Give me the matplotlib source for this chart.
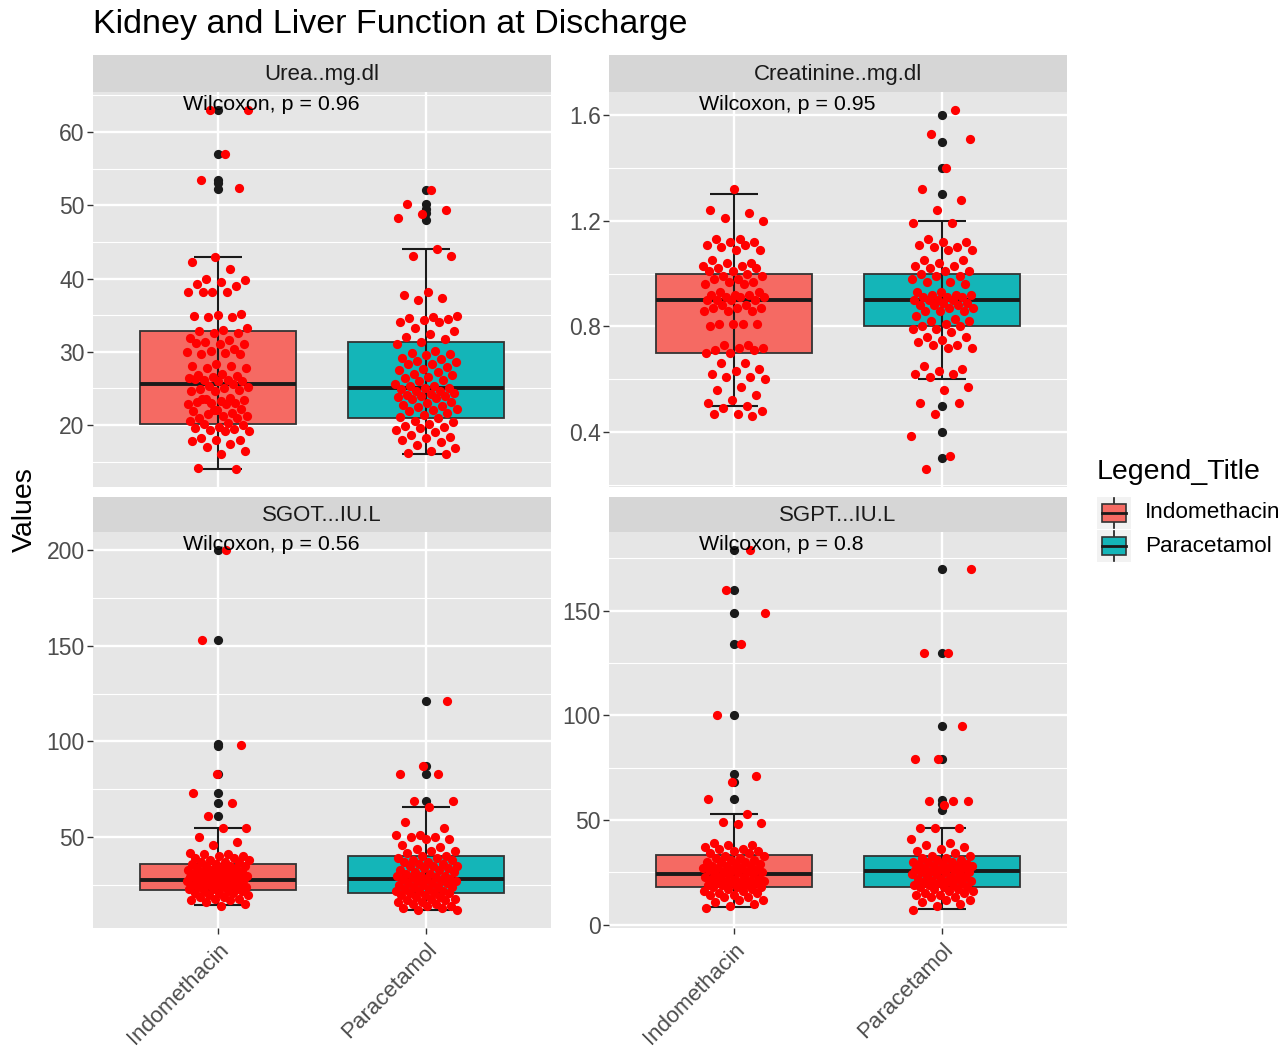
import numpy as np
import matplotlib
matplotlib.use('Agg')
import matplotlib.pyplot as plt
from matplotlib.patches import Rectangle
from matplotlib.ticker import MultipleLocator, FormatStrFormatter

plt.rcParams['font.family'] = ['Liberation Sans', 'DejaVu Sans']

# groups and facet labels
groups = ['Indomethacin', 'Paracetamol']
panel_titles = ['Urea..mg.dl', 'Creatinine..mg.dl', 'SGOT...IU.L', 'SGPT...IU.L']
p_values = ['0.96', '0.95', '0.56', '0.8']
fill_colors = ['#F56A63', '#14B5B8']

urea_indo = [63, 63, 57, 53.5, 52.3, 43, 42.2, 41.3, 40.0, 39.8, 39.5, 39.2, 39.0, 38.1, 38.1, 38.1, 38.1,
             35.2, 35.0, 34.9, 34.7, 34.7, 33.3, 33.0, 32.8, 32.6, 32.6, 31.9, 31.6, 31.3, 31.0, 31.0, 31.2,
             30.4, 30.1, 30.0, 29.8, 29.7, 29.7, 28.3, 28.1, 28.0, 27.8, 27.8, 27.0, 26.9, 26.7, 26.5, 26.4,
             26.2, 26.1, 26.0, 26.0, 26.3, 25.6, 25.4, 25.2, 25.0, 24.9, 24.8, 24.7, 24.7, 23.7, 23.6, 23.4,
             23.3, 23.2, 23.0, 23.0, 22.9, 22.9, 23.5, 22.2, 22.0, 21.9, 21.7, 21.5, 21.3, 21.2, 21.0, 21.0,
             22.1, 20.5, 20.3, 20.1, 20.0, 19.8, 19.6, 19.5, 19.3, 19.2, 19.2, 18.2, 18.0, 17.9, 17.8, 17.4,
             17.0, 16.5, 16.0, 14.1, 14.0]
urea_para = [52.1, 50.1, 49.3, 48.8, 48.2, 44, 43.1, 43.1, 38.1, 37.8, 37.3, 37.0, 34.9, 34.8, 34.6, 34.5,
             34.3, 34.1, 34.0, 33.3, 32.9, 32.4, 32.0, 31.7, 31.3, 31.0, 30.1, 29.9, 29.7, 29.5, 29.2, 29.0,
             28.8, 28.6, 28.4, 28.3, 27.9, 27.7, 27.5, 27.2, 27.0, 26.8, 26.6, 26.4, 26.2, 26.0, 25.6, 25.4,
             25.3, 25.1, 25.0, 24.9, 24.7, 24.6, 24.4, 24.3, 24.1, 24.0, 23.9, 23.8, 23.7, 23.5, 23.2, 23.0,
             22.8, 22.6, 22.4, 22.2, 22.0, 21.9, 21.7, 21.4, 21.1, 20.9, 20.6, 20.4, 20.1, 19.9, 19.7, 19.6,
             19.3, 19.0, 18.7, 18.4, 18.2, 18.0, 17.7, 17.3, 16.9, 16.5, 16.2, 16.0]
creat_indo = [1.32, 1.24, 1.23, 1.21, 1.20, 1.13, 1.13, 1.12, 1.12, 1.11, 1.11, 1.10, 1.09, 1.09, 1.05, 1.04,
              1.04, 1.03, 1.03, 1.02, 1.02, 1.01, 1.01, 1.00, 0.99, 0.99, 0.98, 0.98, 0.97, 0.97, 0.96, 0.96,
              0.93, 0.93, 0.92, 0.92, 0.92, 0.91, 0.91, 0.91, 0.90, 0.90, 0.90, 0.90, 0.88, 0.88, 0.87, 0.87,
              0.87, 0.86, 0.86, 0.86, 0.81, 0.81, 0.81, 0.81, 0.80, 0.73, 0.73, 0.72, 0.72, 0.71, 0.71, 0.70,
              0.70, 0.66, 0.66, 0.64, 0.63, 0.62, 0.61, 0.61, 0.60, 0.57, 0.56, 0.54, 0.52, 0.51, 0.50, 0.49,
              0.48, 0.47, 0.47, 0.46]
creat_para = [1.62, 1.53, 1.51, 1.40, 1.32, 1.28, 1.24, 1.19, 1.19, 1.13, 1.12, 1.12, 1.11, 1.10, 1.10, 1.09,
              1.09, 1.05, 1.05, 1.04, 1.03, 1.03, 1.02, 1.01, 1.01, 1.00, 0.99, 0.99, 0.98, 0.97, 0.97, 0.96,
              0.93, 0.93, 0.92, 0.92, 0.92, 0.91, 0.91, 0.91, 0.90, 0.90, 0.90, 0.90, 0.89, 0.89, 0.88, 0.88,
              0.88, 0.87, 0.87, 0.86, 0.86, 0.86, 0.84, 0.83, 0.82, 0.82, 0.81, 0.80, 0.80, 0.79, 0.79, 0.78,
              0.76, 0.76, 0.75, 0.74, 0.73, 0.73, 0.72, 0.72, 0.65, 0.64, 0.63, 0.62, 0.62, 0.61, 0.57, 0.56,
              0.51, 0.51, 0.47, 0.385, 0.31, 0.26]
sgot_indo = [200, 153, 98, 83, 73, 68, 61, 55, 55, 50, 47.5, 46, 42, 41, 41, 40, 40, 39, 39, 38, 38, 37, 37,
             37, 36, 36, 35, 35, 35, 34, 34, 34, 33, 33, 33, 32, 32, 32, 31, 31, 31, 30, 30, 30, 30, 29, 29,
             29, 28, 28, 28, 28, 27, 27, 27, 26, 26, 26, 25, 25, 25, 25, 24, 24, 24, 23, 23, 23, 22, 22, 22,
             21, 21, 21, 20, 20, 19, 19, 18, 18, 17, 17, 16, 15, 14]
sgot_para = [121, 87, 83, 83, 69, 69, 66, 58, 55, 51, 51, 50, 50, 49, 49, 46, 45, 44, 43, 43, 42, 40, 40, 39,
             39, 38, 38, 37, 37, 36, 36, 35, 35, 35, 34, 34, 33, 33, 32, 32, 31, 31, 30, 30, 30, 29, 29, 28,
             28, 28, 27, 27, 27, 26, 26, 26, 25, 25, 24, 24, 24, 23, 23, 22, 22, 22, 21, 21, 21, 20, 20, 19,
             19, 18, 18, 17, 17, 16, 16, 15, 15, 14, 14, 13, 13, 12, 12]
sgpt_indo = [179, 160, 149, 134, 100, 71, 68, 60, 53, 49, 48.5, 48, 39, 38, 38, 37, 36, 36, 35, 35, 34, 34,
             33, 33, 32, 32, 31, 31, 30, 30, 30, 29, 29, 28, 28, 28, 27, 27, 27, 26, 26, 26, 25, 25, 25, 25,
             24, 24, 24, 23, 23, 23, 22, 22, 22, 21, 21, 21, 20, 20, 20, 20, 19, 19, 19, 18, 18, 18, 17, 17,
             16, 16, 15, 15, 14, 14, 13, 13, 12, 12, 11, 10, 9, 8]
sgpt_para = [170, 130, 130, 95, 79, 79, 59, 59, 59, 57, 46, 46, 46, 41, 39, 38, 37, 36, 35, 34, 33, 33, 32,
             32, 31, 31, 30, 30, 30, 29, 29, 29, 28, 28, 28, 27, 27, 27, 26, 26, 26, 25, 25, 25, 25, 24, 24,
             24, 23, 23, 23, 22, 22, 22, 21, 21, 21, 20, 20, 20, 19, 19, 19, 18, 18, 18, 17, 17, 16, 16, 15,
             15, 14, 14, 13, 13, 12, 12, 11, 10, 9, 7]

# box stats per group: q1, median, q3, lower whisker, upper whisker
urea_box = [[20.2, 25.6, 32.8, 14, 43], [20.9, 25.0, 31.3, 16, 44]]
creat_box = [[0.7, 0.9, 1.0, 0.5, 1.3], [0.8, 0.9, 1.0, 0.6, 1.2]]
sgot_box = [[22.5, 27.8, 36.2, 14.8, 55], [20.7, 28.1, 40, 12, 66]]
sgpt_box = [[18.1, 24.4, 33.4, 8.3, 53], [18.1, 25.5, 32.6, 7.5, 46.3]]

# boxplot outliers (black points)
urea_out = [[63, 57, 53.5, 53, 52.2], [52.1, 50.1, 49.5, 49, 48]]
creat_out = [[], [1.6, 1.5, 1.4, 1.3, 0.5, 0.4, 0.3]]
sgot_out = [[200, 153, 98.5, 97.5, 83, 73, 68, 61], [121, 87, 83, 69]]
sgpt_out = [[179, 160, 149, 134, 100, 72, 68, 60], [170, 130, 95, 79, 59.5, 57.5, 55]]

points = [[urea_indo, urea_para], [creat_indo, creat_para], [sgot_indo, sgot_para], [sgpt_indo, sgpt_para]]
boxes = [urea_box, creat_box, sgot_box, sgpt_box]
outliers = [urea_out, creat_out, sgot_out, sgpt_out]
major_step = [10, 0.4, 50, 50]
minor_step = [5, 0.2, 25, 25]

W, H = 1284, 1050
fig = plt.figure(figsize=(W / 100, H / 100), dpi=100)

# panel boxes in pixels: x0, x1 and strip top, panel top, panel bottom
cols = [(93, 551), (609, 1067)]
rows = [(55, 92, 487), (497, 532, 928)]

for k in range(4):
    r, c = divmod(k, 2)
    x0, x1 = cols[c]
    s0, p0, p1 = rows[r]
    ax = fig.add_axes([x0 / W, 1 - p1 / H, (x1 - x0) / W, (p1 - p0) / H])
    ax.set_facecolor('#E6E6E6')
    for sp in ax.spines.values():
        sp.set_visible(False)

    stats = []
    for g in range(2):
        q1, med, q3, wl, wh = boxes[k][g]
        stats.append(dict(q1=q1, med=med, q3=q3, whislo=wl, whishi=wh, fliers=[]))
    bp = ax.bxp(stats, positions=[1, 2], widths=0.75, patch_artist=True, showfliers=False,
                showcaps=False, manage_ticks=False,
                boxprops=dict(edgecolor='#333333', lw=1.3),
                medianprops=dict(color='#1A1A1A', lw=2.8), whiskerprops=dict(lw=0))
    for patch, col in zip(bp['boxes'], fill_colors):
        patch.set_facecolor(col)
        patch.set_zorder(2)
    for m in bp['medians']:
        m.set_zorder(2.5)

    for g in range(2):
        pos = g + 1
        q1, med, q3, wl, wh = boxes[k][g]
        # errorbar whisker
        ax.vlines(pos, wl, wh, color='#1A1A1A', lw=1.5, zorder=3)
        ax.hlines([wl, wh], pos - 0.115, pos + 0.115, color='#1A1A1A', lw=1.5, zorder=3)
        out = outliers[k][g]
        if out:
            ax.scatter(np.full(len(out), pos), out, s=44, color='#1A1A1A', lw=0, zorder=3.5)
        vals = np.array(points[k][g])
        n = len(vals)
        offs = ((np.arange(n) * 0.618034 + 0.37 + 0.21 * g + 0.13 * k) % 1.0) * 2 - 1
        ax.scatter(pos + 0.15 * offs, vals, s=44, color='red', lw=0, zorder=4)

    allv = points[k][0] + points[k][1]
    lo, hi = min(allv), max(allv)
    pad = 0.05 * (hi - lo)
    ax.set_xlim(0.4, 2.6)
    ax.set_ylim(lo - pad, hi + pad)

    ax.yaxis.set_major_locator(MultipleLocator(major_step[k]))
    ax.yaxis.set_minor_locator(MultipleLocator(minor_step[k]))
    ax.set_axisbelow(True)
    ax.grid(which='major', color='white', lw=1.7)
    ax.grid(which='minor', axis='y', color='white', lw=0.8)
    ax.tick_params(axis='y', which='major', length=4, width=1, color='#333333',
                   labelsize=16.5, labelcolor='#4D4D4D', pad=2)
    ax.tick_params(axis='y', which='minor', length=0)
    if k == 1:
        ax.yaxis.set_major_formatter(FormatStrFormatter('%.1f'))

    ax.set_xticks([1, 2])
    if r == 1:
        ax.set_xticklabels(groups, rotation=45, ha='right', rotation_mode='anchor',
                           fontsize=16, color='#4D4D4D')
        ax.tick_params(axis='x', length=4, width=1, color='#333333', pad=4)
    else:
        ax.set_xticklabels([])
        ax.tick_params(axis='x', length=0)

    ax.text(0.83, hi, 'Wilcoxon, p = ' + p_values[k], fontsize=15.4, ha='left',
            va='baseline', color='black', zorder=6)

    # strip
    sax = fig.add_axes([x0 / W, 1 - p0 / H, (x1 - x0) / W, (p0 - s0) / H])
    sax.set_facecolor('#D6D6D6')
    sax.set_xticks([])
    sax.set_yticks([])
    for sp in sax.spines.values():
        sp.set_visible(False)
    sax.text(0.5, 0.48, panel_titles[k], ha='center', va='center', fontsize=16,
             color='#1A1A1A', transform=sax.transAxes)

fig.text(93 / W, 1 - 25 / H, 'Kidney and Liver Function at Discharge', fontsize=24.5,
         ha='left', va='center')
fig.text(25 / W, 1 - 510 / H, 'Values', rotation=90, fontsize=20.5, ha='center', va='center')

# legend drawn by hand in pixel coordinates
lax = fig.add_axes([1088 / W, 1 - 570 / H, 196 / W, 120 / H])
lax.set_xlim(1088, 1284)
lax.set_ylim(570, 450)
lax.axis('off')
lax.text(1097, 472, 'Legend_Title', fontsize=20.5, ha='left', va='center')
for g, name in enumerate(groups):
    yc = 513 + 33 * g
    lax.add_patch(Rectangle((1097, yc - 16), 34, 32, facecolor='#F2F2F2', edgecolor='none'))
    lax.plot([1114, 1114], [yc - 15, yc + 15], color='#1A1A1A', lw=1.2)
    lax.add_patch(Rectangle((1102, yc - 9), 24, 18, facecolor=fill_colors[g],
                            edgecolor='#333333', lw=1.2, zorder=3))
    lax.plot([1102, 1126], [yc, yc], color='#1A1A1A', lw=2, zorder=4)
    lax.text(1145, yc, name, fontsize=16.2, ha='left', va='center')

fig.savefig('out.png', dpi=100)
